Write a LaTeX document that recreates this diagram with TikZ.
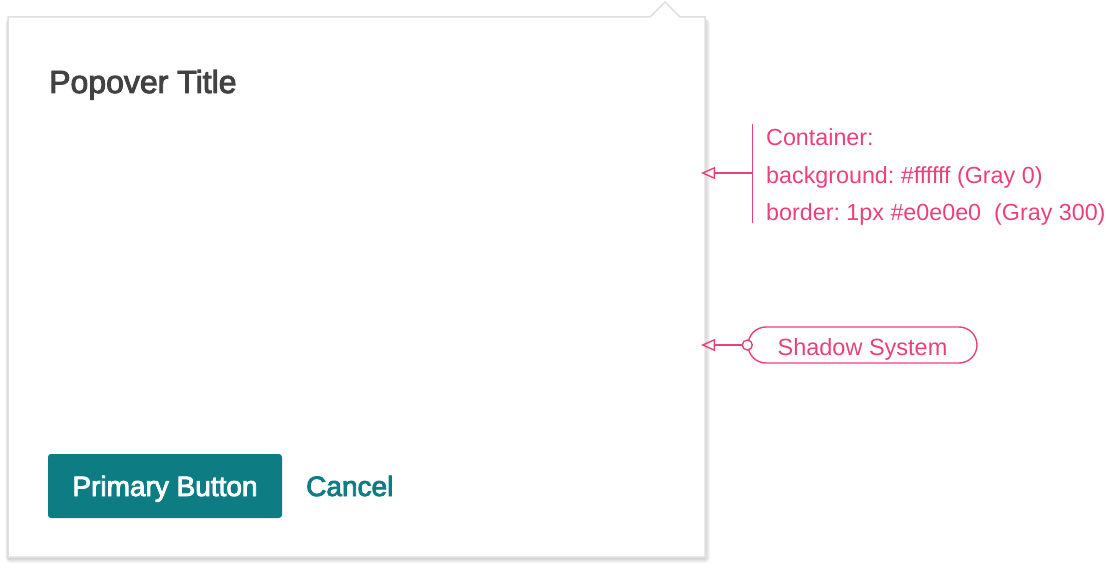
\documentclass[tikz,border=0pt]{standalone}
\usepackage{fontspec}
\setmainfont{Liberation Sans}
\newfontfamily\medfont[FakeBold=3]{Liberation Sans}
\usetikzlibrary{arrows.meta}
\definecolor{annpink}{HTML}{EC407A}
\definecolor{teal700}{HTML}{0D7C83}
\definecolor{gray300}{HTML}{E0E0E0}
\definecolor{gray800}{HTML}{424242}
\frenchspacing
\tikzset{
  ann/.style={annpink, font=\fontsize{23.3}{27}\selectfont, anchor=base west, inner sep=0},
  annline/.style={draw=annpink, line width=1.4pt},
  annarrow/.style={annline, -{Triangle[open,length=14pt,width=12pt,line width=1.4pt]}},
  pill/.style={draw=annpink, line width=1.4pt, rounded corners=18pt, minimum width=229pt,
    minimum height=36pt, text=annpink, font=\fontsize{23.5}{27}\selectfont,
    text height=20pt, text depth=0pt, inner sep=0},
  dot/.style={circle, draw=annpink, line width=1.4pt, fill=white, inner sep=0, minimum size=10pt},
  btn/.style={fill=teal700, rounded corners=3pt, minimum width=234pt, minimum height=64pt,
    text=white, font=\fontsize{28}{32}\selectfont\medfont, text height=20pt, text depth=0pt, inner sep=0},
}
\begin{document}
\begin{tikzpicture}[x=1pt,y=-1pt]
\useasboundingbox (0,0) rectangle (1106,572);
% shadow
\foreach \i in {1,...,5}{
  \fill[black,opacity=0.035,rounded corners=\i pt] (8-\i/2,19) rectangle (705+\i,557+\i+1);
}
% popover container
\draw[fill=white, draw=gray300, line width=1.5pt, line join=miter]
  (8,17) -- (650,17) -- (665,2) -- (680,17) -- (705,17) -- (705,557) -- (8,557) -- cycle;
% title
\node[anchor=base west, inner sep=0, text=gray800, font=\fontsize{32}{38}\selectfont\medfont] (title) at (49,93) {Popover Title};
% buttons
\node[btn] (primary) at (165,486) {Primary Button};
\node[anchor=base west, inner sep=0, text=teal700, font=\fontsize{28}{32}\selectfont\medfont] (cancel) at (306,496) {Cancel};
% container annotation
\coordinate (bartop) at (752.5,124);
\coordinate (barbot) at (752.5,223);
\coordinate (barmid) at (752.5,173);
\coordinate (ctip) at (701,173);
\draw[annline] (bartop) -- (barbot);
\draw[annarrow] (barmid) -- (ctip);
\node[ann] (l1) at (766,146) {Container:};
\node[ann] (l2) at (766,184) {background: \#ffffff (Gray 0)};
\node[ann] (l3) at (766,221) {border: 1px \#e0e0e0\ \ (Gray 300)};
% shadow annotation
\node[pill] (shadow) at (862.5,345) {Shadow System};
\node[dot] (sdot) at (shadow.west) {};
\coordinate (stip) at (701,345);
\draw[annarrow] (sdot.west) -- (stip);
\end{tikzpicture}
\end{document}
